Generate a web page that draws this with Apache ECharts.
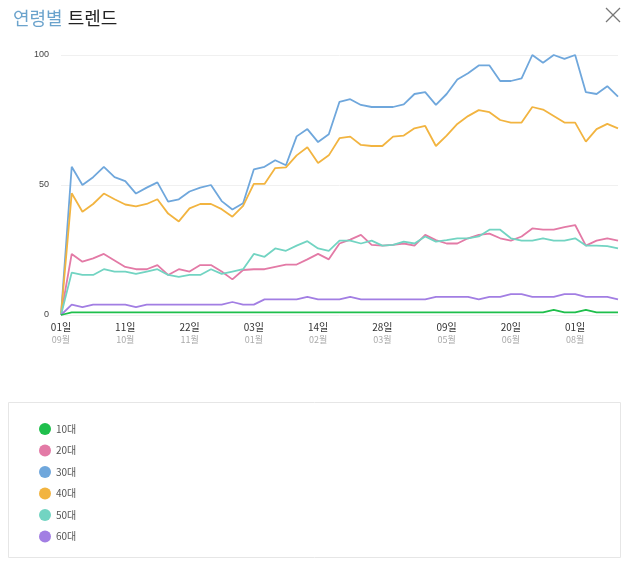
<!DOCTYPE html>
<html><head><meta charset="utf-8">
<script src="https://cdn.jsdelivr.net/npm/echarts@6/dist/echarts.min.js"></script>
<style>html,body{margin:0;padding:0;background:#fff}#c{width:630px;height:567px}</style>
</head><body><div id="c"></div>
<script>
const dayLabels = ['01일','11일','22일','03일','14일','28일','09일','20일','01일'];
const monthLabels = ['09월','10월','11월','01월','02월','03월','05월','06월','08월'];
const yTicks = [0, 50, 100];
const names = ['10대','20대','30대','40대','50대','60대'];
const colors = ['#1fbf4c','#e37aa6','#6fa7dc','#f2b440','#72d4c2','#a27ee3'];

const s10 = [0,1,1,1,1,1,1,1,1,1,1,1,1,1,1,1,1,1,1,1,1,1,1,1,1,1,1,1,1,1,1,1,1,1,1,1,1,1,1,1,1,1,1,1,1,1,2,1,1,2,1,1,1];
const s20 = [0,23.5,20.5,21.8,23.5,21,18.5,17.6,17.6,19.2,15.4,17.6,16.7,19.2,19.2,16.7,13.7,17.3,17.6,17.6,18.5,19.4,19.4,21.4,23.5,21.4,27.5,29,30.8,27,26.7,27,27.5,26.7,30.8,28.8,27.5,27.5,29.5,30.8,31.3,29.5,28.6,30.2,33.3,32.8,32.8,33.8,34.6,26.7,28.6,29.5,28.6];
const s30 = [0,57,50,53,57,53,51.5,46.7,49,51,43.6,44.5,47.5,49,50,43.8,40.6,43,56,57,59.5,57.6,68.7,71.5,66.5,69.5,82,83,80.8,80,80,80,81,85,85.7,80.8,85,90.6,93,96,96,90,90,91,100,97,100,98.5,100,85.7,85,88,84];
const s40 = [0,46.8,39.7,42.7,46.7,44.5,42.5,41.8,42.7,44.5,39,36,41,42.7,42.7,40.7,37.8,42,50.4,50.4,56.5,56.8,61.4,64.5,58.5,61.4,68,68.6,65.4,65,65,68.6,69,71.8,72.7,65,69,73.5,76.5,78.8,78,75,74,74,80,79,76.5,74,74,66.7,71.5,73.5,71.8];
const s50 = [0,16.3,15.4,15.4,17.6,16.7,16.7,15.8,16.7,17.6,15.4,14.7,15.4,15.4,17.6,15.8,16.7,17.6,23.5,22.4,25.6,24.7,26.7,28.4,25.6,24.7,28.6,28.6,27.5,28.6,26.7,27,28.2,27.5,30.2,28.2,28.8,29.5,29.5,30.2,32.8,32.8,29.5,28.6,28.6,29.5,28.6,28.6,29.5,26.7,26.7,26.5,25.6];
const s60 = [0,4,3,4,4,4,4,3,4,4,4,4,4,4,4,4,5,4,4,6,6,6,6,7,6,6,6,7,6,6,6,6,6,6,6,7,7,7,7,6,7,7,8,8,7,7,7,8,8,7,7,7,6];
const seriesData = [s10,s20,s30,s40,s50,s60];

const N = 53, STEP = 6;
const cats = [];
for (let i = 0; i < N; i++) {
  const k = i / STEP;
  cats.push(i % STEP === 0 && k < dayLabels.length ? dayLabels[k] + '\n' + monthLabels[k] : ' ' + i);
}

const chart = echarts.init(document.getElementById('c'));
chart.setOption({
  animation: false,
  color: colors,
  title: {
    text: '{a|연령별} {b|트렌드}', left: 8, top: 4,
    textStyle: { rich: {
      a: { fontSize: 18, fontWeight: 'normal', color: '#6ba3cc', fontFamily: 'Noto Sans CJK KR' },
      b: { fontSize: 18, fontWeight: 'normal', color: '#222', fontFamily: 'Noto Sans CJK KR' } } }
  },
  graphic: [
    { type: 'line', shape: { x1: 606, y1: 8, x2: 620, y2: 22 }, style: { stroke: '#777', lineWidth: 1.3 } },
    { type: 'line', shape: { x1: 620, y1: 8, x2: 606, y2: 22 }, style: { stroke: '#777', lineWidth: 1.3 } },
    { type: 'rect', shape: { x: 8.5, y: 402.5, width: 612, height: 155 }, style: { fill: 'none', stroke: '#e6e6e6', lineWidth: 1 } }
  ],
  legend: {
    orient: 'vertical', left: 34, top: 418, itemGap: 9.5, icon: 'circle',
    itemWidth: 12, itemHeight: 12,
    textStyle: { fontSize: 10, color: '#555', fontFamily: 'Noto Sans CJK KR' },
    data: names
  },
  grid: { left: 61, right: 12, top: 55, bottom: 252, containLabel: false },
  xAxis: {
    type: 'category', boundaryGap: false, data: cats,
    axisLine: { show: false }, axisTick: { show: false },
    axisLabel: {
      interval: STEP - 1, margin: 6, lineHeight: 13,
      formatter: v => {
        if (v.charAt(0) === ' ') return '';
        const p = v.split('\n');
        return '{d|' + p[0] + '}\n{m|' + p[1] + '}';
      },
      rich: {
        d: { fontSize: 10, color: '#333', fontFamily: 'Noto Sans CJK KR', lineHeight: 13 },
        m: { fontSize: 9, color: '#aaa', fontFamily: 'Noto Sans CJK KR', lineHeight: 12 }
      }
    }
  },
  yAxis: {
    type: 'value', min: yTicks[0], max: yTicks[2], interval: 50,
    axisLine: { show: false }, axisTick: { show: false },
    axisLabel: { fontSize: 9, color: '#444', margin: 12 },
    splitLine: { lineStyle: { color: '#f0f0f0' } }
  },
  series: names.map((n, i) => ({
    name: n, type: 'line', data: seriesData[i], symbol: 'none',
    lineStyle: { width: 1.8, color: colors[i] }, z: i === 0 ? 10 : 2
  }))
});
</script></body></html>
